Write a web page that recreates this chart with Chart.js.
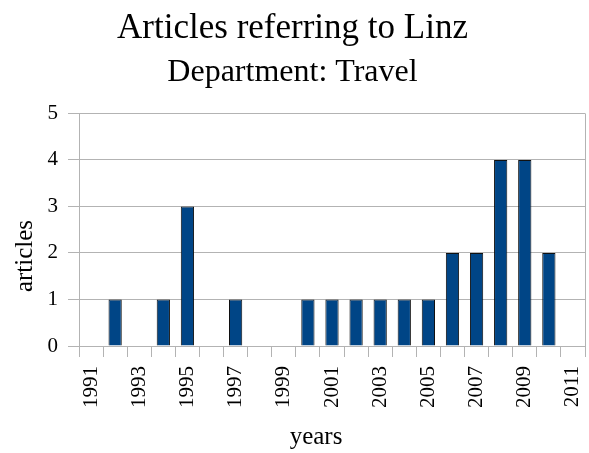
<!DOCTYPE html>
<html>
<head>
<meta charset="utf-8">
<script src="https://cdn.jsdelivr.net/npm/chart.js@4"></script>
<style>
  html, body { margin: 0; padding: 0; background: #fff; }
  #wrap { width: 589px; height: 453px; }
</style>
</head>
<body>
<div id="wrap"><canvas id="linzChart"></canvas></div>
<script>
// 数据
const years = ['1991', '1992', '1993', '1994', '1995', '1996', '1997', '1998', '1999', '2000',
               '2001', '2002', '2003', '2004', '2005', '2006', '2007', '2008', '2009', '2010', '2011'];
const articles = [0, 1, 0, 1, 3, 0, 1, 0, 0, 1, 1, 1, 1, 1, 1, 2, 2, 4, 4, 2, 0];
const yTicks = [0, 1, 2, 3, 4, 5];

const serif = "'Liberation Serif', 'DejaVu Serif', serif";
const gridGray = '#b3b3b3';

// 坐标轴标题与右边框
const axisDecor = {
    id: 'axisDecor',
    afterDraw(chart) {
        const a = chart.chartArea;
        const c = chart.ctx;
        c.save();
        c.strokeStyle = gridGray;
        c.lineWidth = 1;
        c.beginPath();
        c.moveTo(Math.round(a.right) + 0.5, a.top);
        c.lineTo(Math.round(a.right) + 0.5, a.bottom);
        c.stroke();

        c.fillStyle = '#000';
        c.font = '25px ' + serif;
        c.textAlign = 'center';
        c.textBaseline = 'middle';
        c.fillText('years', 316, 437);

        c.translate(25, 256);
        c.rotate(-Math.PI / 2);
        c.fillText('articles', 0, 0);
        c.restore();
    }
};

document.addEventListener('DOMContentLoaded', function() {
    const ctx = document.getElementById('linzChart');
    new Chart(ctx, {
        type: 'bar',
        data: {
            labels: years,
            datasets: [{
                label: 'articles',
                data: articles,
                backgroundColor: '#004586',
                borderColor: '#111',
                borderWidth: 1,
                barPercentage: 0.55,
                categoryPercentage: 1
            }]
        },
        options: {
            responsive: true,
            maintainAspectRatio: false,
            animation: false,
            layout: { padding: { left: 0, right: 4, top: 0, bottom: 0 } },
            plugins: {
                legend: { display: false },
                tooltip: { enabled: false },
                title: {
                    display: true,
                    text: 'Articles referring to Linz',
                    color: '#000',
                    font: { family: serif, size: 35, weight: 'normal' },
                    padding: { top: 8, bottom: 2 }
                },
                subtitle: {
                    display: true,
                    text: 'Department: Travel',
                    color: '#000',
                    font: { family: serif, size: 32, weight: 'normal' },
                    padding: { top: 1, bottom: 22 }
                }
            },
            scales: {
                x: {
                    afterFit: function(scale) {
                        scale.height = 107;
                        scale.paddingLeft = 0;
                        scale.paddingRight = 0;
                    },
                    grid: {
                        offset: true,
                        drawOnChartArea: false,
                        drawTicks: true,
                        tickLength: 11,
                        color: gridGray
                    },
                    border: { color: gridGray },
                    ticks: {
                        color: '#000',
                        font: { family: serif, size: 21 },
                        minRotation: 90,
                        maxRotation: 90,
                        autoSkip: false,
                        padding: 9,
                        callback: function(value, index) {
                            return index % 2 === 0 ? years[index] : '';
                        }
                    }
                },
                y: {
                    min: yTicks[0],
                    max: yTicks[yTicks.length - 1],
                    afterFit: function(scale) { scale.width = 79; },
                    afterBuildTicks: function(scale) {
                        scale.ticks = yTicks.map(v => ({ value: v }));
                    },
                    grid: {
                        color: gridGray,
                        tickLength: 11
                    },
                    border: { color: gridGray },
                    ticks: {
                        color: '#000',
                        font: { family: serif, size: 21 },
                        padding: 10
                    }
                }
            }
        },
        plugins: [axisDecor]
    });
});
</script>
</body>
</html>
